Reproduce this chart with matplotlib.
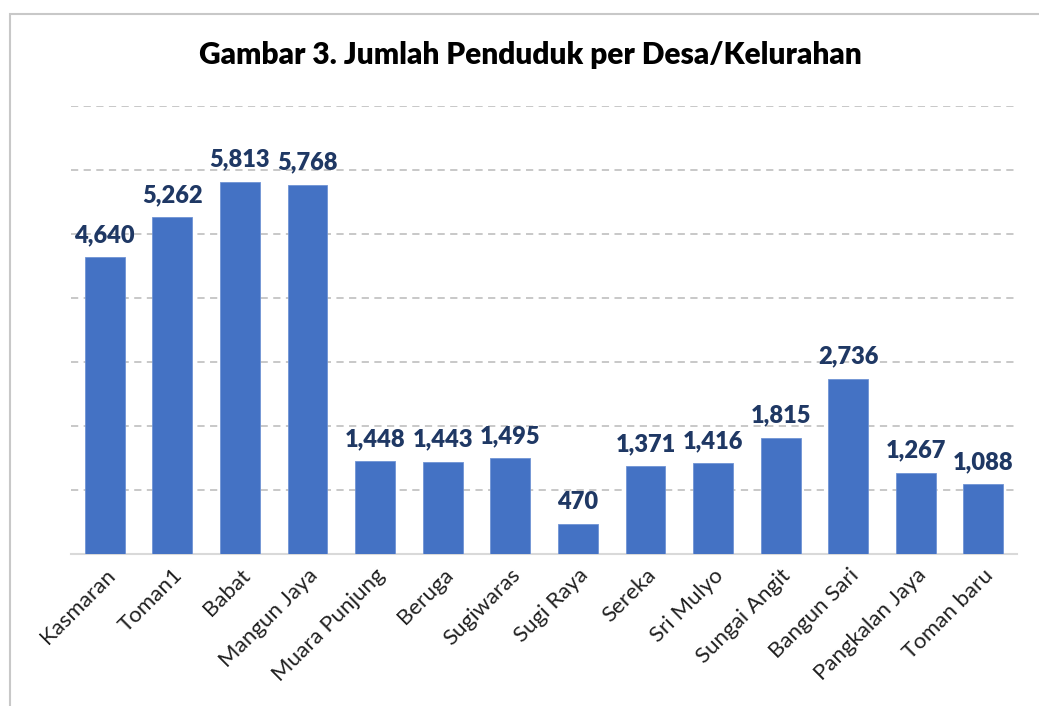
import matplotlib.pyplot as plt
from matplotlib.patches import Rectangle

# data
desa = ["Kasmaran", "Toman1", "Babat", "Mangun Jaya", "Muara Punjung", "Beruga",
        "Sugiwaras", "Sugi Raya", "Sereka", "Sri Mulyo", "Sungai Angit",
        "Bangun Sari", "Pangkalan Jaya", "Toman baru"]
penduduk = [4640, 5262, 5813, 5768, 1448, 1443, 1495, 470, 1371, 1416, 1815,
            2736, 1267, 1088]
judul = "Gambar 3. Jumlah Penduduk per Desa/Kelurahan"

plt.rcParams['font.family'] = ['Lato', 'DejaVu Sans']

fig = plt.figure(figsize=(10.39, 7.06), dpi=100)
ax = fig.add_axes([0.0683, 0.2153, 0.9107, 0.6347])

# chart frame (only left/top are visible in the crop)
fig.patches.append(Rectangle((0.0095, -0.1), 1.2, 1.08, transform=fig.transFigure,
                             fill=False, edgecolor="#c8c8c8", linewidth=1.5))

x = range(len(desa))
bars = ax.bar(x, penduduk, width=0.59, color="#4472C4", edgecolor="#6f93d4",
              linewidth=0.6, zorder=3)

for xi, v in zip(x, penduduk):
    ax.annotate(f"{v:,}", (xi, v), xytext=(0, 8), textcoords="offset points",
                ha="center", va="bottom", fontsize=17, fontweight="heavy",
                color="#1F3864")

ax.set_xlim(-0.5, len(desa) - 0.5)
ax.set_ylim(0, 7000)
ax.set_yticks(range(1000, 7001, 1000))
ax.yaxis.grid(True, linestyle=(0, (4, 3)), color="#c4c4c4", linewidth=1.3, zorder=0)
ax.tick_params(axis="y", left=False, labelleft=False)
ax.tick_params(axis="x", length=0, pad=8)
ax.set_xticks(list(x))
ax.set_xticklabels(desa, rotation=45, ha="right", rotation_mode="anchor",
                   fontsize=16, color="#202020")

for s in ["top", "right", "left"]:
    ax.spines[s].set_visible(False)
ax.spines["bottom"].set_color("#d9d9d9")
ax.spines["bottom"].set_linewidth(1.5)

fig.text(0.51, 0.922, judul, ha="center", va="center", fontsize=21.5,
         fontweight="heavy", color="black")

fig.savefig("out.png", dpi=100)
